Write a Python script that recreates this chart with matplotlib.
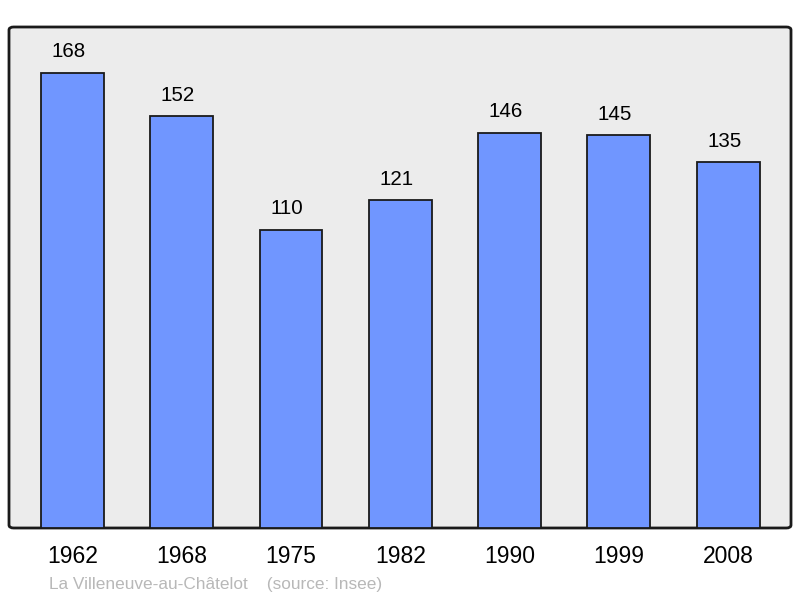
import matplotlib.pyplot as plt
from matplotlib.patches import FancyBboxPatch

plt.rcParams['font.family'] = ['Liberation Sans', 'DejaVu Sans']

years = ['1962', '1968', '1975', '1982', '1990', '1999', '2008']
population = [168, 152, 110, 121, 146, 145, 135]

fig = plt.figure(figsize=(8, 5.98), dpi=100)
ax = fig.add_axes([9/800, 1 - 528/598, 782/800, 501/598])

# cadre arrondi
ax.set_facecolor('none')
frame = FancyBboxPatch((0, 0), 1, 1, boxstyle='round,pad=0,rounding_size=0.006',
                       transform=ax.transAxes, facecolor='#ececec',
                       edgecolor='#1a1a1a', linewidth=2, zorder=0, clip_on=False)
ax.add_patch(frame)

x = range(len(years))
bars = ax.bar(x, population, width=0.575, color='#7096ff', edgecolor='#1a1a1a',
              linewidth=1.3, zorder=2)
for xi, v in zip(x, population):
    ax.text(xi - 0.035, v + 7.8, str(v), ha='center', va='center', fontsize=14.8, color='black')

ax.set_xlim(-0.58, 6.575)
ax.set_ylim(0, 185)
for s in ax.spines.values():
    s.set_visible(False)
ax.set_yticks([])
ax.set_xticks(list(x))
ax.set_xticklabels(years, fontsize=16.5)
ax.tick_params(axis='x', length=0, pad=12.5)

fig.text(49/800, 1 - 584/598, 'La Villeneuve-au-Châtelot    (source: Insee)',
         fontsize=12.4, color='#b8b8b8', ha='left', va='center')

fig.savefig('out.png', dpi=100)
